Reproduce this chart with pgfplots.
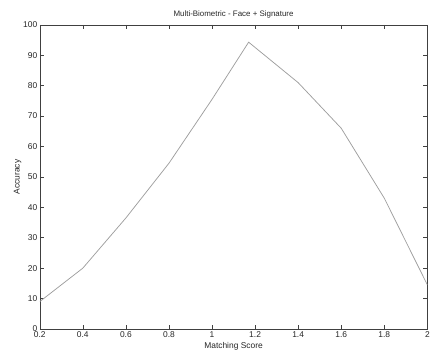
\documentclass[border=0pt]{standalone}
\usepackage{pgfplots}
\pgfplotsset{compat=1.18}
\usepackage{fontspec}
\setmainfont{Liberation Sans}
\begin{document}
\begin{tikzpicture}
\begin{axis}[
  scale only axis,
  width=390bp, height=306bp,
  xmin=0.2, xmax=2, ymin=0, ymax=100,
  xtick={0.2,0.4,...,2.0},
  xticklabels={0.2,0.4,0.6,0.8,1,1.2,1.4,1.6,1.8,2},
  ytick={0,10,...,100},
  tick align=inside,
  major tick length=4bp,
  axis line style={draw=black!75, line width=0.5pt},
  every tick/.style={black!75, line width=0.5pt},
  tick label style={font=\fontsize{8.5}{9}\selectfont, text=black!85},
  /pgf/number format/assume math mode=true,
  xticklabel style={yshift=1bp},
  yticklabel style={xshift=1bp},
  title={Multi-Biometric - Face + Signature},
  title style={font=\fontsize{8}{9}\selectfont, text=black!85, yshift=-3bp},
  xlabel={Matching Score},
  ylabel={Accuracy},
  label style={font=\fontsize{8.5}{9}\selectfont, text=black!85},
  xlabel style={yshift=2bp},
  ylabel style={yshift=-5bp},
]
\addplot[color=black!38, line width=0.75pt, mark=none] coordinates {
  (0.2,9) (0.4,20) (0.6,36.5) (0.8,54.5) (1.0,75.5) (1.17,94.3)
  (1.4,81) (1.6,66) (1.8,43) (2.0,14.5)
};
\coordinate (sw) at (rel axis cs:0,0);
\coordinate (ne) at (rel axis cs:1,1);
\end{axis}
\path ([shift={(-40bp,-23bp)}]sw) rectangle ([shift={(3bp,25bp)}]ne);
\end{tikzpicture}
\end{document}
